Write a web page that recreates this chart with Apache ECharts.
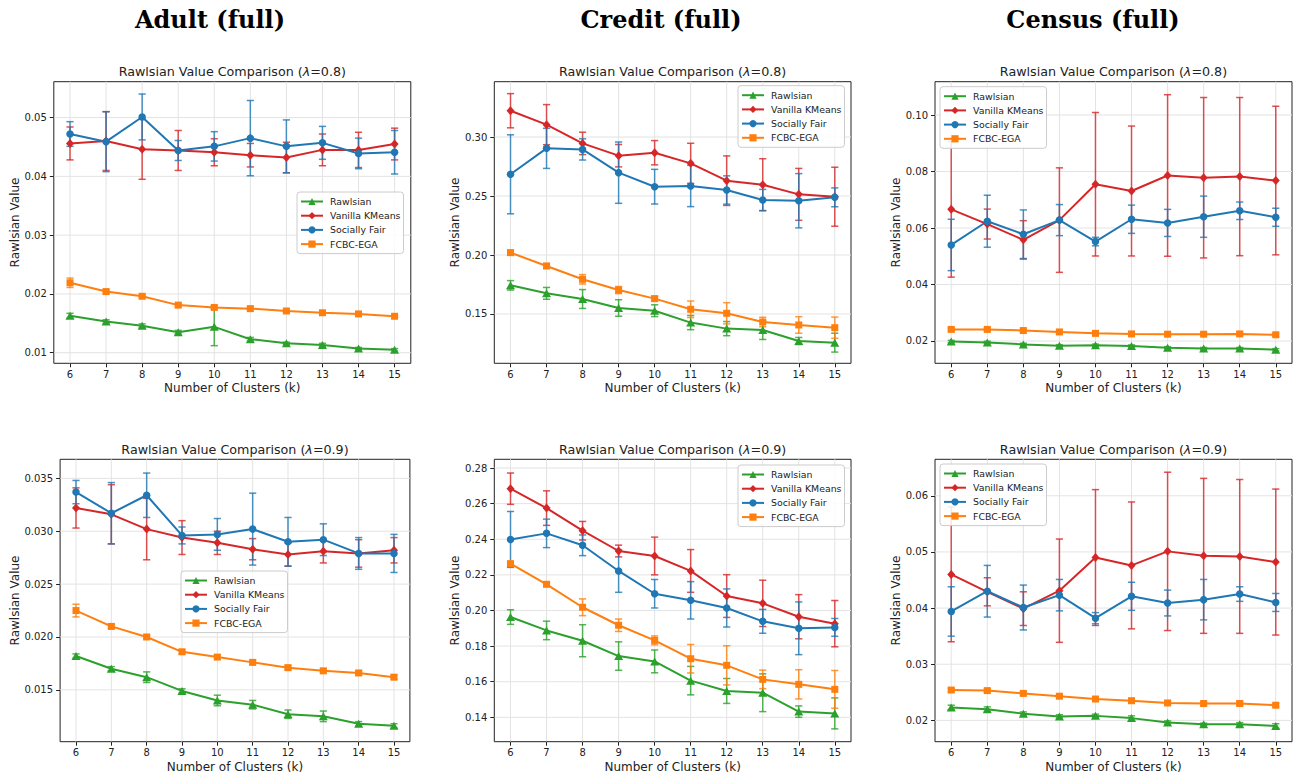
<!DOCTYPE html>
<html><head><meta charset="utf-8">
<script src="https://cdn.jsdelivr.net/npm/echarts@6/dist/echarts.min.js"></script>
<style>html,body{margin:0;padding:0;background:#fff}#c{width:1296px;height:780px}</style>
</head><body><div id="c"></div>
<script>
// ---------- DATA ----------
const ks = [6, 7, 8, 9, 10, 11, 12, 13, 14, 15];
const seriesNames = ['Rawlsian', 'Vanilla KMeans', 'Socially Fair', 'FCBC-EGA'];
const datasetTitles = ['Adult (full)', 'Credit (full)', 'Census (full)'];
const lambdas = ['0.8', '0.9'];

// Adult, lambda = 0.8
const adult08_rawlsian = [0.0163, 0.0153, 0.0146, 0.0135, 0.0144, 0.0123, 0.0116, 0.0113, 0.0107, 0.0105];
const adult08_rawlsian_err = [0.0004, 0.0003, 0.0003, 0.0003, 0.0032, 0.0003, 0.0002, 0.0003, 0.0002, 0.0002];
const adult08_vanilla = [0.0456, 0.0460, 0.0446, 0.0444, 0.0441, 0.0436, 0.0432, 0.0445, 0.0445, 0.0455];
const adult08_vanilla_err = [0.0028, 0.0050, 0.0051, 0.0034, 0.0023, 0.0020, 0.0026, 0.0027, 0.0030, 0.0027];
const adult08_social = [0.0472, 0.0459, 0.0501, 0.0444, 0.0451, 0.0465, 0.0451, 0.0457, 0.0439, 0.0441];
const adult08_social_err = [0.0021, 0.0051, 0.0039, 0.0017, 0.0025, 0.0064, 0.0045, 0.0028, 0.0026, 0.0037];
const adult08_fcbc = [0.0219, 0.0204, 0.0196, 0.0181, 0.0177, 0.0175, 0.0171, 0.0168, 0.0166, 0.0162];
const adult08_fcbc_err = [0.0008, 0.0003, 0.0003, 0.0003, 0.0003, 0.0002, 0.0002, 0.0002, 0.0002, 0.0002];

// Credit, lambda = 0.8
const credit08_rawlsian = [0.1743, 0.1675, 0.1627, 0.1551, 0.1528, 0.1427, 0.1376, 0.1364, 0.1271, 0.1257];
const credit08_rawlsian_err = [0.004, 0.005, 0.008, 0.007, 0.005, 0.006, 0.006, 0.008, 0.003, 0.008];
const credit08_vanilla = [0.3223, 0.3105, 0.2946, 0.2842, 0.2867, 0.2777, 0.2630, 0.2596, 0.2514, 0.2494];
const credit08_vanilla_err = [0.0145, 0.017, 0.0095, 0.0095, 0.0103, 0.017, 0.021, 0.022, 0.022, 0.025];
const credit08_social = [0.2684, 0.2904, 0.2895, 0.2698, 0.2579, 0.2585, 0.2551, 0.2466, 0.2460, 0.2489];
const credit08_social_err = [0.0335, 0.017, 0.009, 0.026, 0.0147, 0.0175, 0.012, 0.009, 0.023, 0.008];
const credit08_fcbc = [0.2020, 0.1907, 0.1794, 0.1703, 0.1630, 0.1540, 0.1506, 0.1432, 0.1407, 0.1384];
const credit08_fcbc_err = [0.002, 0.002, 0.004, 0.003, 0.002, 0.007, 0.009, 0.004, 0.007, 0.009];

// Census, lambda = 0.8
const census08_rawlsian = [0.0198, 0.0195, 0.0188, 0.0183, 0.0185, 0.0182, 0.0176, 0.0173, 0.0173, 0.0169];
const census08_rawlsian_err = [0.0004, 0.0004, 0.0004, 0.0004, 0.0004, 0.0004, 0.0004, 0.0004, 0.0004, 0.0004];
const census08_vanilla = [0.0666, 0.0614, 0.0558, 0.0628, 0.0755, 0.0731, 0.0786, 0.0778, 0.0782, 0.0768];
const census08_vanilla_err = [0.024, 0.0053, 0.0068, 0.0185, 0.0254, 0.023, 0.0286, 0.0284, 0.028, 0.0263];
const census08_social = [0.0540, 0.0624, 0.0578, 0.0628, 0.0552, 0.0631, 0.0618, 0.0640, 0.0661, 0.0638];
const census08_social_err = [0.0091, 0.0092, 0.0086, 0.0055, 0.0015, 0.005, 0.0048, 0.0073, 0.0031, 0.0032];
const census08_fcbc = [0.0241, 0.0241, 0.0237, 0.0232, 0.0227, 0.0225, 0.0224, 0.0224, 0.0225, 0.0222];
const census08_fcbc_err = [0.0005, 0.0005, 0.0005, 0.0005, 0.0005, 0.0005, 0.0005, 0.0005, 0.0005, 0.0005];

// Adult, lambda = 0.9
const adult09_rawlsian = [0.0182, 0.0170, 0.0162, 0.0149, 0.0140, 0.0136, 0.0127, 0.0125, 0.0118, 0.0116];
const adult09_rawlsian_err = [0.0002, 0.0002, 0.0005, 0.0002, 0.0005, 0.0004, 0.0004, 0.0005, 0.0002, 0.0002];
const adult09_vanilla = [0.0322, 0.0316, 0.0302, 0.0294, 0.0289, 0.0283, 0.0278, 0.0281, 0.0279, 0.0282];
const adult09_vanilla_err = [0.0019, 0.0028, 0.0029, 0.0016, 0.0011, 0.0010, 0.0011, 0.0011, 0.0013, 0.0012];
const adult09_social = [0.0337, 0.0317, 0.0334, 0.0296, 0.0297, 0.0302, 0.0290, 0.0292, 0.0279, 0.0279];
const adult09_social_err = [0.0011, 0.0029, 0.0021, 0.0008, 0.0015, 0.0034, 0.0023, 0.0015, 0.0015, 0.0018];
const adult09_fcbc = [0.0225, 0.0210, 0.0200, 0.0186, 0.0181, 0.0176, 0.0171, 0.0168, 0.0166, 0.0162];
const adult09_fcbc_err = [0.0006, 0.0002, 0.0002, 0.0002, 0.0002, 0.0002, 0.0002, 0.0002, 0.0002, 0.0002];

// Credit, lambda = 0.9
const credit09_rawlsian = [0.1963, 0.1888, 0.1830, 0.1744, 0.1714, 0.1606, 0.1548, 0.1538, 0.1432, 0.1422];
const credit09_rawlsian_err = [0.0041, 0.0052, 0.009, 0.008, 0.0064, 0.008, 0.007, 0.0106, 0.0032, 0.0087];
const credit09_vanilla = [0.2684, 0.2575, 0.2448, 0.2334, 0.2306, 0.2222, 0.2081, 0.2040, 0.1965, 0.1926];
const credit09_vanilla_err = [0.0088, 0.0097, 0.0052, 0.0033, 0.0106, 0.012, 0.012, 0.013, 0.0124, 0.013];
const credit09_social = [0.2399, 0.2433, 0.2366, 0.2222, 0.2094, 0.2057, 0.2014, 0.1939, 0.1900, 0.1905];
const credit09_social_err = [0.0157, 0.008, 0.0058, 0.012, 0.008, 0.0105, 0.0107, 0.0067, 0.0148, 0.005];
const credit09_fcbc = [0.2263, 0.2147, 0.2018, 0.1917, 0.1832, 0.1729, 0.1692, 0.1613, 0.1585, 0.1557];
const credit09_fcbc_err = [0.001, 0.001, 0.0047, 0.0035, 0.0025, 0.008, 0.011, 0.0052, 0.0082, 0.0106];

// Census, lambda = 0.9
const census09_rawlsian = [0.0223, 0.0220, 0.0212, 0.0207, 0.0208, 0.0204, 0.0196, 0.0193, 0.0193, 0.0190];
const census09_rawlsian_err = [0.0004, 0.0004, 0.0003, 0.0003, 0.0003, 0.0004, 0.0003, 0.0002, 0.0003, 0.0004];
const census09_vanilla = [0.0460, 0.0429, 0.0399, 0.0431, 0.0490, 0.0476, 0.0501, 0.0493, 0.0492, 0.0482];
const census09_vanilla_err = [0.012, 0.0025, 0.003, 0.0092, 0.0121, 0.0113, 0.0141, 0.0138, 0.0137, 0.013];
const census09_social = [0.0394, 0.0430, 0.0401, 0.0423, 0.0382, 0.0421, 0.0409, 0.0415, 0.0425, 0.0410];
const census09_social_err = [0.0044, 0.0046, 0.004, 0.0028, 0.001, 0.0025, 0.0023, 0.0036, 0.0013, 0.0016];
const census09_fcbc = [0.0254, 0.0253, 0.0248, 0.0243, 0.0238, 0.0235, 0.0231, 0.0230, 0.0230, 0.0227];
const census09_fcbc_err = [0.0003, 0.0003, 0.0003, 0.0003, 0.0003, 0.0003, 0.0003, 0.0003, 0.0003, 0.0003];

// Y tick labels
const adult08_yticks = ['0.01', '0.02', '0.03', '0.04', '0.05'];
const credit08_yticks = ['0.15', '0.20', '0.25', '0.30'];
const census08_yticks = ['0.02', '0.04', '0.06', '0.08', '0.10'];
const adult09_yticks = ['0.015', '0.020', '0.025', '0.030', '0.035'];
const credit09_yticks = ['0.14', '0.16', '0.18', '0.20', '0.22', '0.24', '0.26', '0.28'];
const census09_yticks = ['0.02', '0.03', '0.04', '0.05', '0.06'];

// ---------- LAYOUT / STYLE ----------
const colors = ['#2ca02c', '#d62728', '#1f77b4', '#ff7f0e'];
const symbols = ['triangle', 'diamond', 'circle', 'rect'];
const symbolSizes = [[9, 8], [8, 9], 7.5, 7];

const panels = [
  { vals: [adult08_rawlsian, adult08_vanilla, adult08_social, adult08_fcbc],
    errs: [adult08_rawlsian_err, adult08_vanilla_err, adult08_social_err, adult08_fcbc_err],
    yticks: adult08_yticks, lam: lambdas[0], ymin: 0.0082, ymax: 0.0561,
    grid: { left: 53.8, top: 81.7, width: 357, height: 281.6 }, legend: { left: 297, top: 192 } },
  { vals: [credit08_rawlsian, credit08_vanilla, credit08_social, credit08_fcbc],
    errs: [credit08_rawlsian_err, credit08_vanilla_err, credit08_social_err, credit08_fcbc_err],
    yticks: credit08_yticks, lam: lambdas[0], ymin: 0.1082, ymax: 0.3469,
    grid: { left: 494.3, top: 81.7, width: 356.7, height: 281.6 }, legend: { left: 738, top: 85.7 } },
  { vals: [census08_rawlsian, census08_vanilla, census08_social, census08_fcbc],
    errs: [census08_rawlsian_err, census08_vanilla_err, census08_social_err, census08_fcbc_err],
    yticks: census08_yticks, lam: lambdas[0], ymin: 0.0121, ymax: 0.1118,
    grid: { left: 935, top: 81.7, width: 357, height: 281.6 }, legend: { left: 940, top: 86.7 } },
  { vals: [adult09_rawlsian, adult09_vanilla, adult09_social, adult09_fcbc],
    errs: [adult09_rawlsian_err, adult09_vanilla_err, adult09_social_err, adult09_fcbc_err],
    yticks: adult09_yticks, lam: lambdas[1], ymin: 0.0101, ymax: 0.0368,
    grid: { left: 60.1, top: 459.3, width: 349.8, height: 282.4 }, legend: { left: 181, top: 571 } },
  { vals: [credit09_rawlsian, credit09_vanilla, credit09_social, credit09_fcbc],
    errs: [credit09_rawlsian_err, credit09_vanilla_err, credit09_social_err, credit09_fcbc_err],
    yticks: credit09_yticks, lam: lambdas[1], ymin: 0.1263, ymax: 0.2849,
    grid: { left: 494.3, top: 459.3, width: 356.7, height: 282.4 }, legend: { left: 738, top: 465 } },
  { vals: [census09_rawlsian, census09_vanilla, census09_social, census09_fcbc],
    errs: [census09_rawlsian_err, census09_vanilla_err, census09_social_err, census09_fcbc_err],
    yticks: census09_yticks, lam: lambdas[1], ymin: 0.0162, ymax: 0.0665,
    grid: { left: 935, top: 459.3, width: 357, height: 282.4 }, legend: { left: 940, top: 464 } }
];

const FONT = '"DejaVu Sans", sans-serif';
const TXT = '#222';

const grids = [], xAxes = [], yAxes = [], series = [], legends = [], graphics = [];

panels.forEach((p, i) => {
  grids.push(Object.assign({ show: true, borderColor: '#222', borderWidth: 1, containLabel: false }, p.grid));
  const ytickVals = p.yticks.map(Number);
  const dec = p.yticks[0].split('.')[1].length;
  xAxes.push({
    type: 'value', gridIndex: i, min: 5.55, max: 15.45,
    axisLine: { show: false }, splitLine: { show: false },
    axisTick: { show: true, customValues: ks, length: 4, lineStyle: { color: '#222', width: 1 } },
    axisLabel: { customValues: ks, fontSize: 10, color: TXT, fontFamily: FONT, margin: 6 },
    name: 'Number of Clusters (k)', nameLocation: 'middle', nameGap: 19,
    nameTextStyle: { fontSize: 12, color: TXT, fontFamily: FONT }
  });
  yAxes.push({
    type: 'value', gridIndex: i, min: p.ymin, max: p.ymax,
    axisLine: { show: false }, splitLine: { show: false },
    axisTick: { show: true, customValues: ytickVals, length: 4, lineStyle: { color: '#222', width: 1 } },
    axisLabel: { customValues: ytickVals, fontSize: 10, color: TXT, fontFamily: FONT, margin: 7,
      formatter: v => Number(v).toFixed(dec) },
    name: 'Rawlsian Value', nameLocation: 'middle', nameGap: (i === 3 ? 39 : 32.5),
    nameTextStyle: { fontSize: 12, color: TXT, fontFamily: FONT }
  });
  // grid lines
  series.push({
    type: 'custom', xAxisIndex: i, yAxisIndex: i, silent: true, z: 0,
    data: [[10, ytickVals[0]]],
    renderItem: (params, api) => {
      const children = [];
      const style = { stroke: '#e3e3e3', lineWidth: 1 };
      ks.forEach(k => {
        const a = api.coord([k, p.ymin]), b = api.coord([k, p.ymax]);
        children.push({ type: 'line', shape: { x1: a[0], y1: a[1], x2: b[0], y2: b[1] }, style });
      });
      ytickVals.forEach(v => {
        const a = api.coord([5.55, v]), b = api.coord([15.45, v]);
        children.push({ type: 'line', shape: { x1: a[0], y1: a[1], x2: b[0], y2: b[1] }, style });
      });
      return { type: 'group', children };
    }
  });
  seriesNames.forEach((name, s) => {
    const col = colors[s];
    // error bars
    series.push({
      type: 'custom', xAxisIndex: i, yAxisIndex: i, silent: true, z: 2,
      data: ks.map((k, j) => [k, p.vals[s][j] - p.errs[s][j], p.vals[s][j] + p.errs[s][j]]),
      renderItem: (params, api) => {
        const lo = api.coord([api.value(0), api.value(1)]);
        const hi = api.coord([api.value(0), api.value(2)]);
        const w = 3.6;
        const st = { stroke: col, lineWidth: 1.5, opacity: 0.8 };
        return { type: 'group', children: [
          { type: 'line', shape: { x1: lo[0], y1: lo[1], x2: hi[0], y2: hi[1] }, style: st },
          { type: 'line', shape: { x1: lo[0] - w, y1: lo[1], x2: lo[0] + w, y2: lo[1] }, style: st },
          { type: 'line', shape: { x1: hi[0] - w, y1: hi[1], x2: hi[0] + w, y2: hi[1] }, style: st }
        ] };
      }
    });
    series.push({
      type: 'line', name, xAxisIndex: i, yAxisIndex: i, z: 3,
      data: ks.map((k, j) => [k, p.vals[s][j]]),
      symbol: symbols[s], symbolSize: symbolSizes[s], showSymbol: true,
      lineStyle: { color: col, width: 2 }, itemStyle: { color: col, borderWidth: 0 },
      emphasis: { disabled: true }, animation: false
    });
  });
  legends.push({
    data: seriesNames, orient: 'vertical', left: p.legend.left, top: p.legend.top,
    padding: [5, 3, 5, 3], itemWidth: 22, itemHeight: 9, itemGap: 5.2,
    backgroundColor: 'rgba(255,255,255,0.85)', borderColor: '#cccccc', borderWidth: 1, borderRadius: 3,
    textStyle: { fontSize: 9.4, color: TXT, fontFamily: FONT, padding: [0, 0, 0, 2] },
    selectedMode: false
  });
  const cx = p.grid.left + p.grid.width / 2;
  const cy = p.grid.top - 10;
  graphics.push({
    type: 'text', x: cx, y: cy,
    style: {
      text: 'Rawlsian Value Comparison ({i|λ}=' + p.lam + ')',
      font: '12.7px ' + FONT, fill: TXT, align: 'center', verticalAlign: 'middle',
      textAlign: 'center', textVerticalAlign: 'middle',
      rich: { i: { fontStyle: 'italic', fontSize: 12.7, fontFamily: FONT, fill: TXT, color: TXT } }
    }
  });
});

const headerX = [210, 661, 1093];
datasetTitles.forEach((t, i) => {
  graphics.push({
    type: 'text', x: headerX[i], y: 19,
    style: { text: t, font: 'bold 24px "DejaVu Serif", serif', fill: '#000',
      align: 'center', verticalAlign: 'middle', textAlign: 'center', textVerticalAlign: 'middle' }
  });
});

const chart = echarts.init(document.getElementById('c'), null, { renderer: 'svg' });
chart.setOption({
  animation: false,
  backgroundColor: '#ffffff',
  grid: grids, xAxis: xAxes, yAxis: yAxes, series, legend: legends, graphic: graphics
});
</script></body></html>
